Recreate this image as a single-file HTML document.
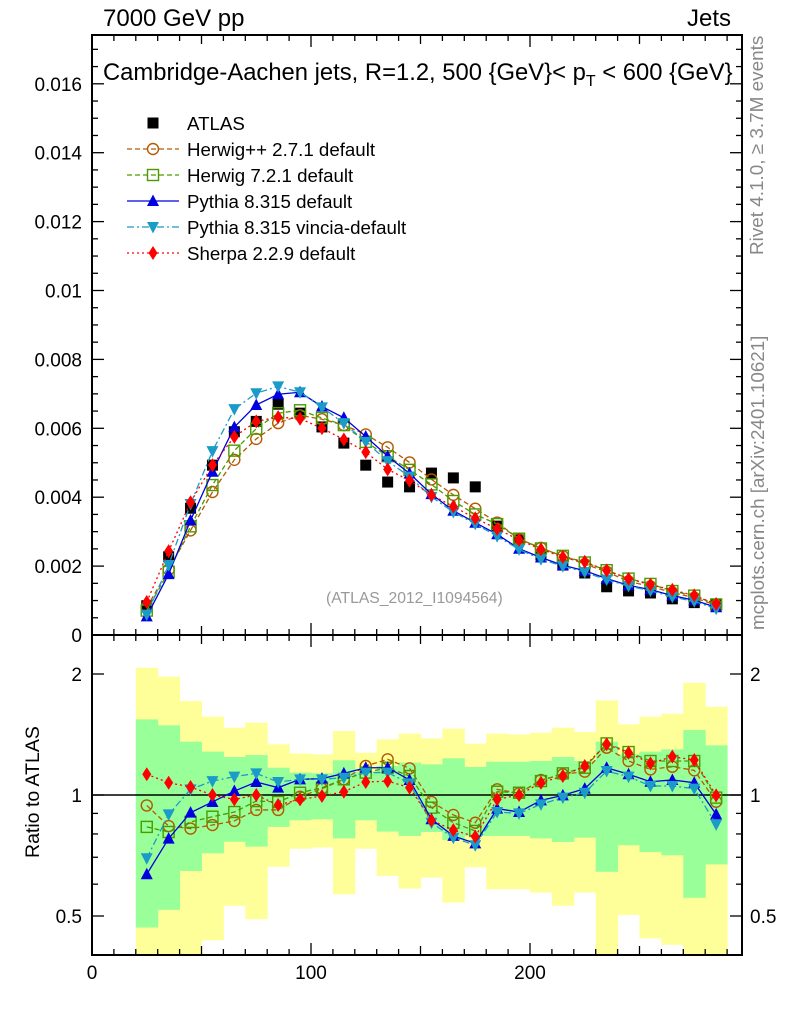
<!DOCTYPE html>
<html><head><meta charset="utf-8"><style>
html,body{margin:0;padding:0;background:#fff}
svg{display:block;font-family:"Liberation Sans",sans-serif}
</style></head><body>
<svg id="c" width="786" height="1024" viewBox="0 0 786 1024" xmlns="http://www.w3.org/2000/svg"></svg>
<script>
const binCenters=[25,35,45,55,65,75,85,95,105,115,125,135,145,155,165,175,185,195,205,215,225,235,245,255,265,275,285];
const atlasValues=[0.00085,0.00227,0.00368,0.00493,0.0059,0.0062,0.0067,0.00644,0.00604,0.00557,0.00493,0.00444,0.0043,0.0047,0.00456,0.0043,0.00316,0.00276,0.00232,0.00203,0.0018,0.0014,0.00128,0.00122,0.00105,0.00094,0.0009];
const herwigppRatio=[0.942,0.837,0.825,0.842,0.862,0.918,0.918,0.990,1.037,1.094,1.181,1.227,1.165,0.961,0.892,0.853,1.033,1.010,1.090,1.126,1.143,1.311,1.215,1.158,1.176,1.152,0.962];
const herwig7Ratio=[0.833,0.809,0.857,0.883,0.907,0.966,0.961,1.013,1.043,1.094,1.137,1.169,1.115,0.930,0.853,0.814,1.019,1.013,1.083,1.132,1.169,1.344,1.279,1.215,1.215,1.215,0.985];
const pythiaRatio=[0.635,0.779,0.904,0.961,1.023,1.077,1.043,1.094,1.098,1.132,1.169,1.169,1.090,0.870,0.791,0.758,0.925,0.907,0.970,0.998,1.037,1.169,1.126,1.079,1.090,1.073,0.895];
const vinciaRatio=[0.696,0.895,1.033,1.083,1.111,1.132,1.077,1.094,1.094,1.104,1.137,1.137,1.069,0.853,0.783,0.750,0.907,0.900,0.948,0.985,1.013,1.147,1.111,1.053,1.053,1.037,0.845];
const sherpaRatio=[1.126,1.073,1.047,1.0,0.975,1.0,0.944,0.975,0.994,1.019,1.077,1.083,1.043,0.865,0.818,0.788,0.975,1.0,1.073,1.115,1.181,1.337,1.274,1.199,1.246,1.222,0.998];
const yellowTop=[2.073,1.970,1.713,1.566,1.471,1.513,1.337,1.268,1.262,1.443,1.274,1.375,1.421,1.383,1.462,1.342,1.421,1.415,1.429,1.471,1.435,1.719,1.499,1.566,1.593,1.902,1.658];
const yellowBottom=[0.35,0.35,0.35,0.435,0.530,0.491,0.663,0.735,0.740,0.566,0.735,0.629,0.585,0.623,0.540,0.661,0.583,0.583,0.572,0.530,0.572,0.35,0.503,0.440,0.424,0.35,0.35];
const greenTop=[1.542,1.490,1.357,1.282,1.243,1.257,1.169,1.137,1.132,1.220,1.143,1.181,1.204,1.192,1.234,1.174,1.210,1.210,1.215,1.243,1.215,1.357,1.262,1.282,1.299,1.451,1.329];
const greenBottom=[0.468,0.518,0.647,0.716,0.765,0.744,0.833,0.865,0.870,0.780,0.865,0.811,0.791,0.809,0.773,0.791,0.791,0.791,0.780,0.764,0.783,0.644,0.750,0.721,0.708,0.555,0.672];
const mainTicks=[0,0.002,0.004,0.006,0.008,0.01,0.012,0.014,0.016];
const mainTickLabels=["0","0.002","0.004","0.006","0.008","0.01","0.012","0.014","0.016"];
const xTicks=[0,100,200];
const ratioTicks=[0.5,1,2];

const NS="http://www.w3.org/2000/svg";
const svg=document.getElementById('c');
const L=92,R=742,T=35,MB=635,RB=955;
const X=v=>L+v*2.19;
const Y=v=>MB-v*34450;
const YR=v=>795-Math.log2(v)*121;
function el(tag,attrs,parent){const e=document.createElementNS(NS,tag);for(const k in attrs)e.setAttribute(k,attrs[k]);(parent||svg).appendChild(e);return e;}
function txt(s,attrs,parent){const e=el('text',attrs,parent);e.textContent=s;return e;}

const defs=el('defs',{});
const cp1=el('clipPath',{id:'cm'},defs);el('rect',{x:L,y:T,width:R-L,height:MB-T},cp1);
const cp2=el('clipPath',{id:'cr'},defs);el('rect',{x:L,y:MB,width:R-L,height:RB-MB},cp2);

const bands=el('g',{'clip-path':'url(#cr)'});


binCenters.forEach((c,i)=>{
  const r=el('rect',{x:X(c-5),y:YR(yellowTop[i]),width:X(c+5)-X(c-5)+0.5,height:YR(yellowBottom[i])-YR(yellowTop[i]),fill:'#ffff99'},bands);
  
  
});
binCenters.forEach((c,i)=>{
  const r=el('rect',{x:X(c-5),y:YR(greenTop[i]),width:X(c+5)-X(c-5)+0.5,height:YR(greenBottom[i])-YR(greenTop[i]),fill:'#99ff99'},bands);
  
  
});
const one=el('line',{x1:L,x2:R,y1:YR(1),y2:YR(1),stroke:'#000','stroke-width':1.5});



function marker(g,type,x,y,color){
  let m;
  if(type==='sq')m=el('rect',{x:x-5.5,y:y-5.5,width:11,height:11,fill:'#000'},g);
  else if(type==='circ')m=el('circle',{cx:x,cy:y,r:5.5,fill:'none',stroke:color,'stroke-width':1.4},g);
  else if(type==='osq')m=el('rect',{x:x-5.5,y:y-5.5,width:11,height:11,fill:'none',stroke:color,'stroke-width':1.4},g);
  else if(type==='tu')m=el('polygon',{points:`${x},${y-6.5} ${x-6},${y+5} ${x+6},${y+5}`,fill:color},g);
  else if(type==='td')m=el('polygon',{points:`${x},${y+6.5} ${x-6},${y-5} ${x+6},${y-5}`,fill:color},g);
  else if(type==='dia')m=el('polygon',{points:`${x},${y-7} ${x-4.5},${y} ${x},${y+7} ${x+4.5},${y}`,fill:color},g);
  return m;
}
const series=[
 {name:'herwigpp',ratio:herwigppRatio,color:'#b35a00',dash:'5,3',m:'circ',label:'Herwig++ 2.7.1 default'},
 {name:'herwig7',ratio:herwig7Ratio,color:'#4a9a00',dash:'5,3',m:'osq',label:'Herwig 7.2.1 default'},
 {name:'pythia',ratio:pythiaRatio,color:'#0000e0',dash:'',m:'tu',label:'Pythia 8.315 default'},
 {name:'vincia',ratio:vinciaRatio,color:'#1a9bc8',dash:'7,3,2,3',m:'td',label:'Pythia 8.315 vincia-default'},
 {name:'sherpa',ratio:sherpaRatio,color:'#ff0000',dash:'2,3',m:'dia',label:'Sherpa 2.2.9 default'}
];
const ga=el('g',{'clip-path':'url(#cm)'});


binCenters.forEach((c,i)=>{const m=marker(ga,'sq',X(c),Y(atlasValues[i]));
  
  });
series.forEach(s=>{
  const vals=s.ratio.map((r,i)=>r*atlasValues[i]);
  const g=el('g',{'clip-path':'url(#cm)'});
  
  
  const pl=el('polyline',{points:binCenters.map((c,i)=>X(c)+','+Y(vals[i])).join(' '),fill:'none',stroke:s.color,'stroke-width':1.3,'stroke-dasharray':s.dash},g);
  
  
  binCenters.forEach((c,i)=>{const m=marker(g,s.m,X(c),Y(vals[i]),s.color);
    
    });
  const g2=el('g',{'clip-path':'url(#cr)'});
  
  
  const pl2=el('polyline',{points:binCenters.map((c,i)=>X(c)+','+YR(s.ratio[i])).join(' '),fill:'none',stroke:s.color,'stroke-width':1.3,'stroke-dasharray':s.dash},g2);
  
  
  binCenters.forEach((c,i)=>{const m=marker(g2,s.m,X(c),YR(s.ratio[i]),s.color);
    
    });
});

const f1=el('rect',{x:L,y:T,width:R-L,height:MB-T,fill:'none',stroke:'#000','stroke-width':2});


const f2=el('rect',{x:L,y:MB,width:R-L,height:RB-MB,fill:'none',stroke:'#000','stroke-width':2});



const tg=el('g',{stroke:'#000','stroke-width':1.3});


for(let v=0;v<=0.0174;v+=0.0005){const y=Y(v);const maj=Math.abs(v/0.002-Math.round(v/0.002))<1e-6;const len=maj?12:6;
  el('line',{x1:L,x2:L+len,y1:y,y2:y},tg);el('line',{x1:R,x2:R-len,y1:y,y2:y},tg);}
[0.4,0.5,0.6,0.7,0.8,0.9,1,2].forEach(v=>{const y=YR(v);const maj=ratioTicks.includes(v);const len=maj?12:6;
  el('line',{x1:L,x2:L+len,y1:y,y2:y},tg);el('line',{x1:R,x2:R-len,y1:y,y2:y},tg);});
for(let v=0;v<=296;v+=10){const x=X(v);const len=v%100===0?12:(v%50===0?9:6);
  [MB,RB].forEach(b=>{el('line',{x1:x,x2:x,y1:b,y2:b-len},tg);});
  el('line',{x1:x,x2:x,y1:T,y2:T+len},tg);el('line',{x1:x,x2:x,y1:MB,y2:MB+len},tg);}

mainTicks.forEach((v,i)=>{const t=txt(mainTickLabels[i],{x:L-10,y:Y(v)+7,'text-anchor':'end','font-size':19});
  
  });
ratioTicks.forEach(v=>{
  const a=txt(String(v),{x:L-10,y:YR(v)+7,'text-anchor':'end','font-size':19});
  
  
  const b=txt(String(v),{x:R+8,y:YR(v)+7,'text-anchor':'start','font-size':19});
  
  });
xTicks.forEach(v=>{const t=txt(String(v),{x:X(v),y:979,'text-anchor':'middle','font-size':19});
  
  });

const lg=el('g',{});


const le0=el('g',{},lg);


marker(le0,'sq',153,123);
txt('ATLAS',{x:187,y:130,'font-size':18.7},le0);
series.forEach((s,i)=>{const y=149+i*26;
  const g=el('g',{},lg);
  
  
  el('line',{x1:127,x2:179,y1:y,y2:y,stroke:s.color,'stroke-width':1.3,'stroke-dasharray':s.dash},g);
  marker(g,s.m,153,y,s.color);
  txt(s.label,{x:187,y:y+7,'font-size':18.7},g);});
</script>
<div style="position:absolute;left:0;top:0;width:786px;height:1024px;pointer-events:none;font-family:'Liberation Sans',sans-serif">
<div style="position:absolute;left:103px;top:5px;font-size:24px">7000 GeV pp</div>
<div style="position:absolute;right:55px;top:5px;font-size:24px">Jets</div>
<div style="position:absolute;left:103px;top:59px;font-size:23.8px;white-space:nowrap">Cambridge-Aachen jets, R=1.2, 500 {GeV}&lt; p<sub style="font-size:16px">T</sub> &lt; 600 {GeV}</div>
<div style="position:absolute;left:326px;top:590px;font-size:15.7px;color:#999">(ATLAS_2012_I1094564)</div>
<div style="position:absolute;left:22px;top:858px;transform-origin:0 0;transform:rotate(-90deg);font-size:19.5px;white-space:nowrap">Ratio to ATLAS</div>
<div style="position:absolute;left:747px;top:255px;transform-origin:0 0;transform:rotate(-90deg);font-size:18.9px;color:#888;white-space:nowrap">Rivet 4.1.0, ≥ 3.7M events</div>
<div style="position:absolute;left:747px;top:630px;transform-origin:0 0;transform:rotate(-90deg);font-size:18.8px;color:#888;white-space:nowrap">mcplots.cern.ch [arXiv:2401.10621]</div>
</div>
</body></html>
